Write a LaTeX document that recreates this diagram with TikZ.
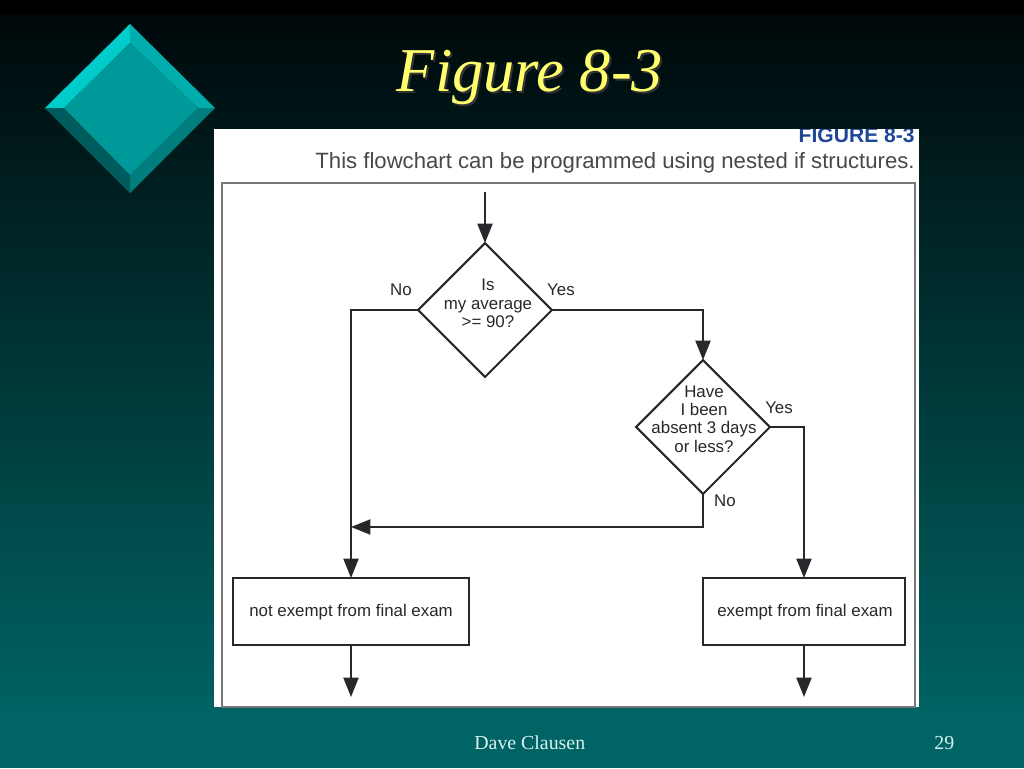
\documentclass[tikz,border=0pt]{standalone}
\usepackage{fontspec}
\setmainfont{Liberation Serif}
\setsansfont{Liberation Sans}
\usetikzlibrary{arrows.meta,shapes.geometric}
\definecolor{slidetop}{RGB}{0,8,10}
\definecolor{slideend}{RGB}{0,98,98}
\definecolor{slidebot}{RGB}{0,100,100}
\definecolor{inkgray}{RGB}{40,40,44}
\definecolor{framegray}{RGB}{120,120,120}
\definecolor{figblue}{RGB}{30,70,150}
\definecolor{titleyellow}{RGB}{255,255,110}
\definecolor{footcolor}{RGB}{215,240,240}
\tikzset{
	decision/.style={draw=inkgray, line width=1.2pt, shape=diamond, aspect=1, inner sep=0pt, outer sep=0pt, minimum width=2.68cm, minimum height=2.68cm},
	outcome/.style={draw=inkgray, line width=1.2pt, inner sep=0pt, outer sep=0pt, minimum height=1.34cm},
	flowtext/.style={font=\sffamily\fontsize{9.6}{10.5}\selectfont, text=inkgray, align=center, inner sep=0pt},
	flow/.style={draw=inkgray, line width=1.2pt},
	tip/.style={-{Triangle[length=11pt,width=8.5pt]}}
}
\begin{document}
\begin{tikzpicture}[x=0.02cm,y=-0.02cm]
	\useasboundingbox (0,0) rectangle (1024,768);
	% background
	\fill[slidebot] (0,700) rectangle (1024,768);
	\shade[top color=slidetop, bottom color=slideend] (0,15) rectangle (1024,707);
	\fill[black] (0,0) rectangle (1024,15);
	% gem
	\fill[color={rgb,255:red,0;green,204;blue,204}] (45,108) -- (130,24) -- (130,43) -- (64,108) -- cycle;
	\fill[color={rgb,255:red,0;green,172;blue,172}] (130,24) -- (215,108) -- (198,108) -- (130,43) -- cycle;
	\fill[color={rgb,255:red,0;green,125;blue,125}] (215,108) -- (130,193) -- (130,175) -- (198,108) -- cycle;
	\fill[color={rgb,255:red,0;green,92;blue,92}] (130,193) -- (45,108) -- (64,108) -- (130,175) -- cycle;
	\fill[color={rgb,255:red,0;green,153;blue,153}] (130,43) -- (198,108) -- (130,175) -- (64,108) -- cycle;
	% title
	\node[text=black!80, font=\itshape\fontsize{35.5}{42}\selectfont] (titleshadow) at (532,79) {Figure 8-3};
	\node[text=titleyellow, font=\itshape\fontsize{35.5}{42}\selectfont] (title) at (530,77) {Figure 8-3};
	% footer
	\node[text=footcolor, font=\fontsize{11.3}{13}\selectfont, anchor=west, inner sep=0pt] (author) at (474,743) {Dave Clausen};
	\node[text=footcolor, font=\fontsize{11.3}{13}\selectfont, anchor=west, inner sep=0pt] (page) at (934,743) {29};
	% panel
	\fill[white] (214,129) rectangle (919,707);
	\begin{scope}
		\clip (214,129) rectangle (919,707);
		\node[text=figblue, font=\sffamily\bfseries\fontsize{12}{14}\selectfont, anchor=east, inner sep=0pt] (figlabel) at (915,135.5) {FIGURE 8-3};
	\end{scope}
	\node[text=inkgray!85, font=\sffamily\fontsize{12.6}{15}\selectfont, anchor=east, inner sep=0pt] (caption) at (915,163) {This flowchart can be programmed using nested if structures.};
	\draw[framegray, line width=0.9pt] (222,707) -- (222,183) -- (915,183) -- (915,707) -- cycle;
	% shapes
	\node[decision] (avg) at (485,310) {};
	\node[decision] (absent) at (703,427) {};
	\node[outcome, minimum width=4.72cm] (notexempt) at (351,611.5) {};
	\node[outcome, minimum width=4.04cm] (exempt) at (804,611.5) {};
	% shape texts
	\node[flowtext] (avgtext) at (488,303.5) {Is\\my average\\>= 90?};
	\node[flowtext] (absenttext) at (704,419) {Have\\I been\\absent 3 days\\or less?};
	\node[flowtext] (notexempttext) at (351,612) {not exempt from final exam};
	\node[flowtext] (exempttext) at (805,612) {exempt from final exam};
	% free ends
	\coordinate (start) at (485,192);
	\coordinate (merge) at (351,527);
	\coordinate (endleft) at (351,697);
	\coordinate (endright) at (804,697);
	% connectors
	\draw[flow, tip] (start) -- (avg.north);
	\draw[flow, tip] (avg.west) -| (notexempt.north);
	\draw[flow, tip] (avg.east) -| (absent.north);
	\draw[flow, tip] (absent.east) -| (exempt.north);
	\draw[flow, tip] (absent.south) |- (merge);
	\draw[flow, tip] (notexempt.south) -- (endleft);
	\draw[flow, tip] (exempt.south) -- (endright);
	% branch labels
	\node[flowtext] (avgno) at (401,290) {No};
	\node[flowtext] (avgyes) at (561,290) {Yes};
	\node[flowtext] (absentyes) at (779,407.5) {Yes};
	\node[flowtext] (absentno) at (725,500.5) {No};
\end{tikzpicture}
\end{document}
